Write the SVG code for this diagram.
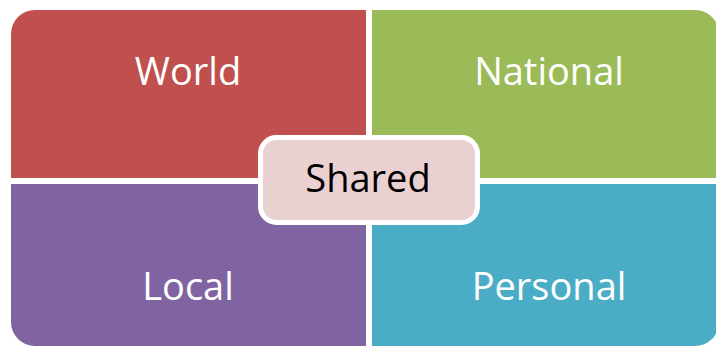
<svg xmlns="http://www.w3.org/2000/svg" width="716" height="347" viewBox="0 0 716 347">
<style>
.q{stroke:none}
.t{font-family:"Open Sans","Liberation Sans",sans-serif;font-size:38px;fill:#fff;text-anchor:middle}
.s{fill:#000}
</style>
<rect width="716" height="347" fill="#fff"/>
<g id="world"><path class="q" fill="#C0504D" d="M11,34 A24,24 0 0 1 35,10 H366 V178 H11 Z"/><text class="t" x="188" y="85">World</text></g>
<g id="national"><path class="q" fill="#9BBB59" d="M372,10 H695 A24,24 0 0 1 719,34 V178 H372 Z"/><text class="t" x="549" y="85">National</text></g>
<g id="local"><path class="q" fill="#8064A2" d="M11,184 H366 V346 H35 A24,24 0 0 1 11,322 Z"/><text class="t" x="188" y="300">Local</text></g>
<g id="personal"><path class="q" fill="#4BACC6" d="M372,184 H719 V322 A24,24 0 0 1 695,346 H372 Z"/><text class="t" x="549" y="300">Personal</text></g>
<g id="shared"><rect x="260.5" y="137.5" width="217" height="85" rx="16" fill="#E9D1D2" stroke="#fff" stroke-width="5"/><text class="t s" x="368" y="192">Shared</text></g>
</svg>
